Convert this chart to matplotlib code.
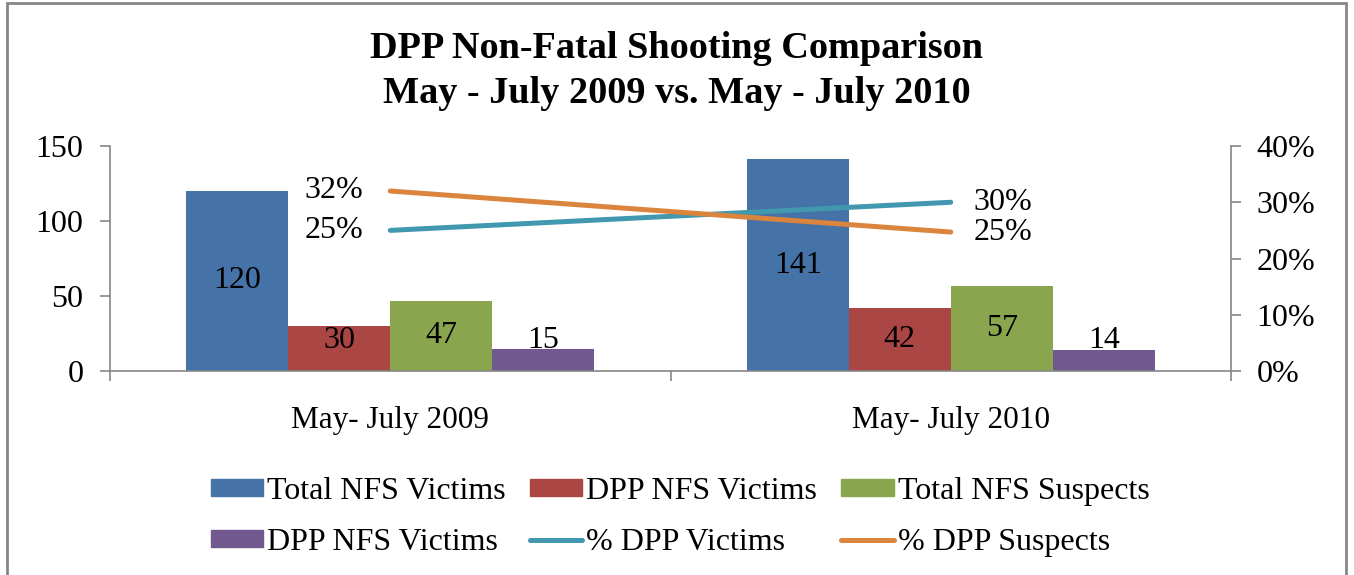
import matplotlib
matplotlib.use("Agg")
import matplotlib.pyplot as plt
from matplotlib.patches import Rectangle, Patch
from matplotlib.lines import Line2D
import numpy as np

categories = ["May- July 2009", "May- July 2010"]
bar_labels = ["Total NFS Victims", "DPP NFS Victims", "Total NFS Suspects", "DPP NFS Victims"]
total_nfs_victims = [120, 141]
dpp_nfs_victims = [30, 42]
total_nfs_suspects = [47, 57]
dpp_nfs_victims_2 = [15, 14]
pct_dpp_victims = [25, 30]
pct_dpp_suspects = [32, 24.7]
pct_victim_labels = ["25%", "30%"]
pct_suspect_labels = ["32%", "25%"]
title = "DPP Non-Fatal Shooting Comparison\nMay - July 2009 vs. May - July 2010"

bar_colors = ["#4572A7", "#AA4643", "#89A54E", "#71588F"]
line_colors = ["#4198AF", "#DB843D"]

plt.rcParams['font.family'] = ['Liberation Serif', 'DejaVu Serif']

W, H = 1354, 575
fig = plt.figure(figsize=(W / 100, H / 100), dpi=100)
ax = fig.add_axes([110 / W, 1 - 371 / H, (1231 - 110) / W, (371 - 146) / H])
ax2 = ax.twinx()

FS = 23
x = np.arange(len(categories))
bw = 0.182
series = [total_nfs_victims, dpp_nfs_victims, total_nfs_suspects, dpp_nfs_victims_2]
for i, (vals, col) in enumerate(zip(series, bar_colors)):
    pos = x + (i - 1.5) * bw
    ax.bar(pos, vals, width=bw, color=col, zorder=2)
    for p, v in zip(pos, vals):
        ax.text(p, max(v / 2, 20), str(v), ha="center", va="center", fontsize=FS, zorder=5)

ax.set_xlim(-0.5, 1.5)
ax.set_ylim(0, 150)
ax.set_yticks([0, 50, 100, 150])
ax2.set_ylim(0, 40)
ax2.set_yticks([0, 10, 20, 30, 40])
ax2.set_yticklabels([f"{t}%" for t in [0, 10, 20, 30, 40]])

ax2.plot(x, pct_dpp_victims, color=line_colors[0], lw=3.6, solid_capstyle="round", zorder=3)
ax2.plot(x, pct_dpp_suspects, color=line_colors[1], lw=3.6, solid_capstyle="round", zorder=3)
ax2.text(x[0] - 0.048, pct_dpp_victims[0], pct_victim_labels[0], ha="right", va="center", fontsize=FS)
ax2.text(x[0] - 0.048, pct_dpp_suspects[0], pct_suspect_labels[0], ha="right", va="center", fontsize=FS)
ax2.text(x[1] + 0.041, pct_dpp_victims[1], pct_victim_labels[1], ha="left", va="center", fontsize=FS)
ax2.text(x[1] + 0.041, pct_dpp_suspects[1], pct_suspect_labels[1], ha="left", va="center", fontsize=FS)

gray = "#868686"
for a in (ax, ax2):
    a.spines["top"].set_visible(False)
    for s in ("left", "right", "bottom"):
        a.spines[s].set_color(gray)
        a.spines[s].set_linewidth(1.2)
ax.spines["right"].set_visible(False)
ax2.spines["left"].set_visible(False)
ax2.spines["bottom"].set_visible(False)

ax.tick_params(axis="y", direction="out", length=7.2, width=1.2, color=gray, labelsize=FS, pad=12)
ax2.tick_params(axis="y", direction="out", length=7.2, width=1.2, color=gray, labelsize=FS, pad=11)
ax.set_xticks(x)
ax.set_xticklabels(categories)
ax.tick_params(axis="x", which="major", length=0, labelsize=22.5, pad=25)
ax.set_xticks([-0.5, 0.5, 1.5], minor=True)
ax.tick_params(axis="x", which="minor", direction="out", length=7, width=1.2, color=gray)

fig.text(677 / W, 1 - 71 / H, title, ha="center", va="center", fontsize=27.5,
         fontweight="bold", linespacing=1.36)

handles = [Patch(color=c) for c in bar_colors] + \
          [Line2D([], [], color=c, lw=3.6, solid_capstyle="round") for c in line_colors]
labels = bar_labels + ["% DPP Victims", "% DPP Suspects"]
order = [0, 3, 1, 4, 2, 5]
fig.legend([handles[i] for i in order], [labels[i] for i in order], ncol=3,
           loc="center", bbox_to_anchor=(680 / W, 1 - 517 / H), frameon=False,
           fontsize=FS, handlelength=1.65, handleheight=0.45, handletextpad=0.12,
           columnspacing=0.75, labelspacing=0.68, borderpad=0)

fig.patches.append(Rectangle((7 / W, -0.1), (1346 - 7) / W, 1.1 - 3 / H, transform=fig.transFigure,
                             fill=False, edgecolor=gray, lw=2))

fig.savefig("out.png", dpi=100)
